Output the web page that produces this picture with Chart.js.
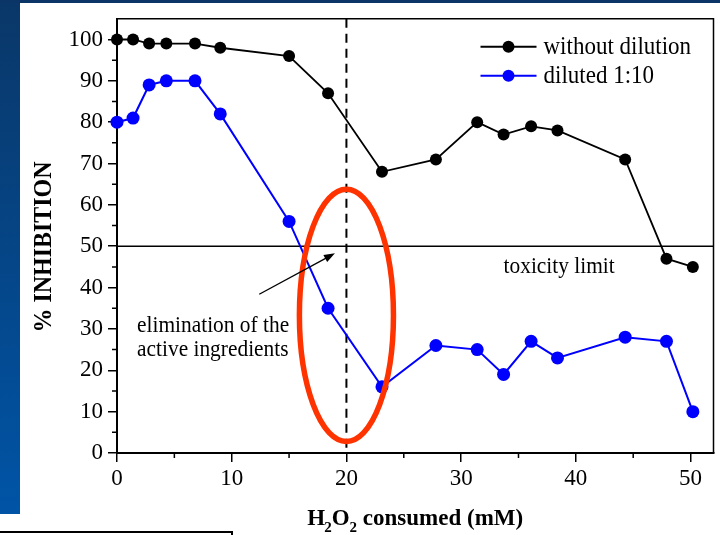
<!DOCTYPE html>
<html>
<head>
<meta charset="utf-8">
<title>% Inhibition vs H2O2 consumed</title>
<script src="https://cdn.jsdelivr.net/npm/chart.js@4.4.1/dist/chart.umd.min.js"></script>
<style>
  html, body { margin: 0; padding: 0; background: #fff; }
  #wrap { position: relative; width: 720px; height: 535px; overflow: hidden; }
  .edge-left { position: absolute; left: 0; top: 0; width: 20px; height: 514px; background: linear-gradient(#0a3768, #0054a6); }
  .edge-top { position: absolute; left: 0; top: 0; width: 720px; height: 3px; background: #0a3566; }
  .note-box { position: absolute; left: -2px; top: 531px; width: 233px; height: 20px; border-top: 2px solid #000; border-right: 2px solid #000; }
  #chartBox { position: absolute; left: 0; top: 0; width: 720px; height: 535px; }
</style>
</head>
<body>
<div id="wrap">
  <div class="edge-left"></div>
  <div class="edge-top"></div>
  <div class="note-box"></div>
  <div id="chartBox"><canvas id="inhibitionChart"></canvas></div>
</div>
<script>
/* ── data ─────────────────────────────────────────── */
const h2o2Consumed    = [0, 1.4, 2.8, 4.3, 6.8, 9.0, 15.0, 18.4, 23.1, 27.8, 31.4, 33.7, 36.1, 38.4, 44.3, 47.9, 50.2];
const withoutDilution = [100, 100, 99, 99, 99, 98, 96, 87, 68, 71, 80, 77, 79, 78, 71, 47, 45];
const diluted         = [80, 81, 89, 90, 90, 82, 56, 35, 16, 26, 25, 19, 27, 23, 28, 27, 10];
const seriesLabels    = ['without dilution', 'diluted 1:10'];
const xTickValues     = [0, 10, 20, 30, 40, 50];
const yTickValues     = [0, 10, 20, 30, 40, 50, 60, 70, 80, 90, 100];
const toxicityLimit   = 50;
const markedDose      = 20;

const COLORS = {
  black: '#000000',
  blue:  '#0000ff',
  ring:  '#ff3300',
  text:  '#000000',
};
const SERIF = "'Liberation Serif', 'Times New Roman', serif";

const toPoints = ys => ys.map((v, i) => ({ x: h2o2Consumed[i], y: v }));

// slightly condensed serif text, like the slide's Times
function narrowText(ctx, text, x, y, sx) {
  ctx.save();
  ctx.translate(x, y);
  ctx.scale(sx, 1);
  ctx.fillText(text, 0, 0);
  ctx.restore();
}

/* ── overlay: frame, minor ticks, limit lines, ring, notes, legend, titles ── */
const overlay = {
  id: 'overlay',
  beforeDatasetsDraw(chart) {
    const { ctx, chartArea: a, scales: { x, y } } = chart;
    ctx.save();
    // top / right frame
    ctx.strokeStyle = COLORS.black;
    ctx.lineWidth = 1.5;
    ctx.beginPath();
    ctx.moveTo(a.left, a.top); ctx.lineTo(a.right, a.top); ctx.lineTo(a.right, a.bottom);
    ctx.stroke();

    // toxicity limit
    const yl = y.getPixelForValue(toxicityLimit);
    ctx.lineWidth = 1.3;
    ctx.beginPath();
    ctx.moveTo(a.left, yl); ctx.lineTo(a.right, yl);
    ctx.stroke();

    // dashed marker at 20 mM
    const xd = x.getPixelForValue(markedDose);
    ctx.lineWidth = 2;
    ctx.setLineDash([9, 6]);
    ctx.beginPath();
    ctx.moveTo(xd, a.top); ctx.lineTo(xd, a.bottom);
    ctx.stroke();
    ctx.restore();
  },
  afterDatasetsDraw(chart) {
    const { ctx, chartArea: a, scales: { x, y } } = chart;
    ctx.save();

    // red ring round the drop of the diluted series
    const cx = x.getPixelForValue(markedDose);
    const cy = y.getPixelForValue(33.3);
    const rx = x.getPixelForValue(markedDose + 4.1) - cx;
    const ry = cy - y.getPixelForValue(33.3 + 30.5);
    ctx.strokeStyle = COLORS.ring;
    ctx.lineWidth = 5.5;
    ctx.beginPath();
    ctx.ellipse(cx, cy, rx, ry, 0, 0, Math.PI * 2);
    ctx.stroke();

    // arrow
    const x0 = x.getPixelForValue(12.4), y0 = y.getPixelForValue(38.4);
    const x1 = x.getPixelForValue(19.0), y1 = y.getPixelForValue(48.3);
    const ang = Math.atan2(y1 - y0, x1 - x0);
    ctx.strokeStyle = COLORS.black;
    ctx.fillStyle = COLORS.black;
    ctx.lineWidth = 1.3;
    ctx.beginPath();
    ctx.moveTo(x0, y0);
    ctx.lineTo(x1 - 8 * Math.cos(ang), y1 - 8 * Math.sin(ang));
    ctx.stroke();
    ctx.beginPath();
    ctx.moveTo(x1, y1);
    ctx.lineTo(x1 - 11 * Math.cos(ang) + 4 * Math.sin(ang), y1 - 11 * Math.sin(ang) - 4 * Math.cos(ang));
    ctx.lineTo(x1 - 11 * Math.cos(ang) - 4 * Math.sin(ang), y1 - 11 * Math.sin(ang) + 4 * Math.cos(ang));
    ctx.closePath();
    ctx.fill();

    // notes
    ctx.fillStyle = COLORS.text;
    ctx.font = `23px ${SERIF}`;
    ctx.textAlign = 'left';
    ctx.textBaseline = 'alphabetic';
    narrowText(ctx, 'elimination of the', x.getPixelForValue(1.75), y.getPixelForValue(29.3), 0.93);
    narrowText(ctx, 'active ingredients', x.getPixelForValue(1.75), y.getPixelForValue(23.5), 0.93);
    narrowText(ctx, 'toxicity limit', x.getPixelForValue(33.7), y.getPixelForValue(toxicityLimit) + 27, 0.93);

    // legend
    const lx = a.right - 233;
    const rows = [
      { label: seriesLabels[0], color: COLORS.black, y: a.top + 28 },
      { label: seriesLabels[1], color: COLORS.blue,  y: a.top + 57 },
    ];
    ctx.font = `25px ${SERIF}`;
    ctx.textBaseline = 'middle';
    rows.forEach(r => {
      ctx.strokeStyle = r.color;
      ctx.fillStyle = r.color;
      ctx.lineWidth = 2;
      ctx.beginPath();
      ctx.moveTo(lx, r.y); ctx.lineTo(lx + 56, r.y);
      ctx.stroke();
      ctx.beginPath();
      ctx.arc(lx + 28, r.y, 6, 0, Math.PI * 2);
      ctx.fill();
      ctx.fillStyle = COLORS.text;
      narrowText(ctx, r.label, lx + 63, r.y + 1, 0.92);
    });
    ctx.restore();
  },
  afterDraw(chart) {
    const { ctx, chartArea: a, scales: { x, y } } = chart;
    ctx.save();
    // minor ticks
    ctx.strokeStyle = COLORS.black;
    ctx.lineWidth = 1.5;
    ctx.beginPath();
    for (let v = 5; v < 105; v += 10) {
      const py = y.getPixelForValue(v);
      ctx.moveTo(a.left - 5, py); ctx.lineTo(a.left, py);
    }
    for (let v = 5; v < 52; v += 10) {
      const px = x.getPixelForValue(v);
      ctx.moveTo(px, a.bottom); ctx.lineTo(px, a.bottom + 5);
    }
    ctx.stroke();

    // y title
    ctx.fillStyle = COLORS.text;
    ctx.font = `bold 26px ${SERIF}`;
    ctx.textAlign = 'center';
    ctx.textBaseline = 'middle';
    ctx.translate(44, 247);
    ctx.rotate(-Math.PI / 2);
    narrowText(ctx, '% INHIBITION', 0, 0, 0.92);
    ctx.setTransform(1, 0, 0, 1, 0, 0);

    // x title with subscripts
    const big = `bold 23px ${SERIF}`, small = `bold 15px ${SERIF}`;
    const parts = [
      { t: 'H', f: big, dy: 0, k: -1 },
      { t: '2', f: small, dy: 7, k: 0 },
      { t: 'O', f: big, dy: 0, k: 0 },
      { t: '2', f: small, dy: 7, k: 0 },
      { t: ' consumed (mM)', f: big, dy: 0, k: 0 },
    ];
    let total = 0;
    parts.forEach(p => { ctx.font = p.f; p.w = ctx.measureText(p.t).width + p.k; total += p.w; });
    let px = (a.left + a.right) / 2 - total / 2;
    const base = 525;
    ctx.textAlign = 'left';
    ctx.textBaseline = 'alphabetic';
    parts.forEach(p => {
      ctx.font = p.f;
      ctx.fillText(p.t, px, base + p.dy);
      px += p.w;
    });
    ctx.restore();
  },
};

/* ── chart ────────────────────────────────────────── */
const ctx = document.getElementById('inhibitionChart');
new Chart(ctx, {
  type: 'line',
  data: {
    datasets: [
      {
        label: seriesLabels[0],
        data: toPoints(withoutDilution),
        borderColor: COLORS.black,
        backgroundColor: COLORS.black,
        borderWidth: 1.8,
        pointRadius: 6,
        pointBorderWidth: 0,
        tension: 0,
        clip: false,
      },
      {
        label: seriesLabels[1],
        data: toPoints(diluted),
        borderColor: COLORS.blue,
        backgroundColor: COLORS.blue,
        borderWidth: 2,
        pointRadius: 6.5,
        pointBorderWidth: 0,
        tension: 0,
        clip: false,
      },
    ],
  },
  options: {
    responsive: true,
    maintainAspectRatio: false,
    animation: false,
    devicePixelRatio: 1,
    layout: { padding: { top: 15, right: 6, left: 0, bottom: 0 } },
    plugins: { legend: { display: false }, tooltip: { enabled: false } },
    scales: {
      x: {
        type: 'linear',
        min: 0, max: 52,
        afterFit: s => { s.height = 82; },
        afterBuildTicks: s => { s.ticks = xTickValues.map(v => ({ value: v })); },
        grid: { drawOnChartArea: false, color: COLORS.black, lineWidth: 1.5, tickLength: 9 },
        border: { color: COLORS.black, width: 2 },
        ticks: { color: COLORS.text, padding: 3, maxRotation: 0, font: { family: SERIF, size: 23 } },
      },
      y: {
        min: 0, max: 105,
        afterFit: s => { s.width = 117; },
        afterBuildTicks: s => { s.ticks = yTickValues.map(v => ({ value: v })); },
        grid: { drawOnChartArea: false, color: COLORS.black, lineWidth: 1.5, tickLength: 9 },
        border: { color: COLORS.black, width: 2 },
        ticks: { color: COLORS.text, padding: 5, font: { family: SERIF, size: 23 } },
      },
    },
  },
  plugins: [overlay],
});
</script>
</body>
</html>
